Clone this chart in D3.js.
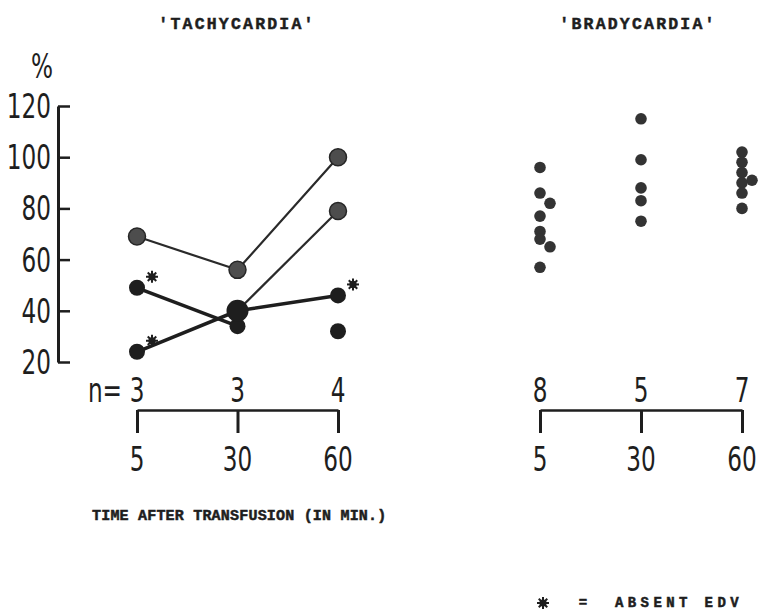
<!DOCTYPE html>
<html>
<head>
<meta charset="utf-8">
<script src="https://cdn.jsdelivr.net/npm/d3@7/dist/d3.min.js"></script>
<style>
  html, body { margin: 0; padding: 0; background: #fff; }
  svg { display: block; }
  .num { font-family: "DejaVu Sans Condensed", "DejaVu Sans", sans-serif; fill: #1e1e1e; }
  .mono { font-family: "Liberation Mono", "DejaVu Sans Mono", monospace; font-weight: bold; fill: #1e1e1e; stroke: #1e1e1e; stroke-width: 0.5; }
</style>
</head>
<body>
<div id="chart"></div>
<script>
// time points (min) and group sizes
const times = [5, 30, 60];
const tachyN = [3, 3, 4];
const bradyN = [8, 5, 7];
const yTicks = [20, 40, 60, 80, 100, 120];

// tachycardia: individual courses (% values, null = not measured)
const tachyGrey = [
  [69, 56, 100],
  [null, 40, 79],
];
const tachyBlack = [
  [49, 34, null],
  [24, 40, 46],
  [null, null, 32],
];
// absent EDV markers, same shape as tachyBlack
const tachyAbsent = [
  [true, false, false],
  [true, false, true],
  [false, false, false],
];

// bradycardia: single values per time point
const brady5 = [96, 86, 82, 77, 71, 68, 65, 57];
const brady30 = [115, 99, 88, 83, 75];
const brady60 = [102, 98, 94, 91, 90, 86, 80];
// dots drawn beside the column where they would overlap
const brady5Beside = [false, false, true, false, false, false, true, false];
const brady30Beside = [false, false, false, false, false];
const brady60Beside = [false, false, false, true, false, false, false];

const W = 762, H = 615;
const ink = "#1e1e1e";
const NUM = 33, SQ = 0.78; // number font size and horizontal squeeze

const svg = d3.select("#chart").append("svg").attr("width", W).attr("height", H);

const y = d3.scaleLinear().domain([20, 120]).range([362, 106]);
const xT = d3.scalePoint().domain(times).range([137, 338]);
const xB = d3.scalePoint().domain(times).range([540, 742]);

// condensed numbers: squeeze the glyphs around their anchor point
function numText(g, x, yy, txt, anchor) {
  return g.append("text").attr("class", "num").attr("font-size", NUM)
    .attr("text-anchor", anchor || "middle")
    .attr("transform", `translate(${x},${yy}) scale(${SQ},1)`).text(txt);
}

/* ── titles ── */
svg.append("text").attr("class", "mono").attr("x", 237).attr("y", 29)
  .attr("text-anchor", "middle").attr("font-size", 16.5).attr("letter-spacing", 2.2)
  .text("'TACHYCARDIA'");
svg.append("text").attr("class", "mono").attr("x", 638).attr("y", 29)
  .attr("text-anchor", "middle").attr("font-size", 16.5).attr("letter-spacing", 2.2)
  .text("'BRADYCARDIA'");

/* ── y axis ── */
const yAxis = d3.axisLeft(y).tickValues(yTicks).tickSizeInner(-12).tickSizeOuter(0).tickFormat("");
const gy = svg.append("g").attr("transform", "translate(58,0)").call(yAxis);
gy.select(".domain").attr("stroke", ink).attr("stroke-width", 3);
gy.selectAll(".tick line").attr("stroke", ink).attr("stroke-width", 2.5);
const gyl = svg.append("g");
yTicks.forEach((t) => numText(gyl, 51, y(t) + 12, t, "end"));

numText(svg, 42, 78, "%");

/* ── x brackets ── */
function bracket(x, n, withPrefix) {
  const ax = d3.axisBottom(x).tickSizeInner(23).tickSizeOuter(0).tickFormat("");
  const g = svg.append("g").attr("transform", "translate(0,410)").call(ax);
  g.select(".domain").attr("stroke", ink).attr("stroke-width", 2.5);
  g.selectAll(".tick line").attr("stroke", ink).attr("stroke-width", 3);
  const gl = svg.append("g");
  times.forEach((t) => numText(gl, x(t), 471, t));
  n.forEach((v, i) => numText(gl, x(times[i]), 402, v));
  if (withPrefix) numText(gl, x(times[0]) - 15, 402, "n=", "end");
}
bracket(xT, tachyN, true);
bracket(xB, bradyN, false);

/* ── tachycardia lines ── */
const line = d3.line().defined((d) => d.v != null).x((d) => xT(d.t)).y((d) => y(d.v));
const toPts = (row) => row.map((v, i) => ({ t: times[i], v: v }));

const gT = svg.append("g");
gT.selectAll("path.grey").data(tachyGrey).join("path").attr("class", "grey")
  .attr("d", (d) => line(toPts(d))).attr("fill", "none").attr("stroke", "#2a2a2a").attr("stroke-width", 2.2);
gT.selectAll("path.black").data(tachyBlack).join("path").attr("class", "black")
  .attr("d", (d) => line(toPts(d))).attr("fill", "none").attr("stroke", ink).attr("stroke-width", 3.5);

// grey markers: first course at every point, second course only at its end
const greyPts = [];
tachyGrey.forEach((row, r) => row.forEach((v, i) => {
  if (v != null && !(r === 1 && i === 1)) greyPts.push({ t: times[i], v: v });
}));
gT.selectAll("circle.grey").data(greyPts).join("circle").attr("class", "grey")
  .attr("cx", (d) => xT(d.t)).attr("cy", (d) => y(d.v)).attr("r", 8.5)
  .attr("fill", "#4d4d4d").attr("stroke", "#262626").attr("stroke-width", 1.5);

const blackPts = [];
tachyBlack.forEach((row, r) => row.forEach((v, i) => {
  if (v != null) blackPts.push({ t: times[i], v: v, absent: tachyAbsent[r][i], hub: i === 1 && r === 1 });
}));
gT.selectAll("circle.black").data(blackPts).join("circle").attr("class", "black")
  .attr("cx", (d) => xT(d.t)).attr("cy", (d) => y(d.v)).attr("r", (d) => (d.hub ? 11 : 8))
  .attr("fill", ink);

/* ── absent EDV stars ── */
function star(g, cx, cy) {
  const s = g.append("g").attr("transform", `translate(${cx},${cy})`);
  s.append("circle").attr("r", 3.6).attr("fill", ink);
  d3.range(8).forEach((k) => {
    const a = (k * Math.PI) / 4;
    s.append("line").attr("x1", 0).attr("y1", 0)
      .attr("x2", Math.cos(a) * 6).attr("y2", Math.sin(a) * 6)
      .attr("stroke", ink).attr("stroke-width", 2);
  });
}
blackPts.filter((d) => d.absent).forEach((d) => star(gT, xT(d.t) + 15, y(d.v) - 11));

/* ── bradycardia dots ── */
const gB = svg.append("g");
[[brady5, brady5Beside], [brady30, brady30Beside], [brady60, brady60Beside]].forEach(([vals, side], i) => {
  gB.append("g").selectAll("circle").data(vals).join("circle")
    .attr("cx", (d, j) => xB(times[i]) + (side[j] ? 10 : 0))
    .attr("cy", (d) => y(d)).attr("r", 5.8).attr("fill", "#333");
});

/* ── footer ── */
svg.append("text").attr("class", "mono").attr("x", 92).attr("y", 520)
  .attr("font-size", 15).attr("letter-spacing", 0.2)
  .text("TIME AFTER TRANSFUSION (IN MIN.)");
star(svg, 543, 603);
svg.append("text").attr("class", "mono").attr("x", 583).attr("y", 607)
  .attr("text-anchor", "middle").attr("font-size", 14).text("=");
svg.append("text").attr("class", "mono").attr("x", 615).attr("y", 607)
  .attr("font-size", 14).attr("letter-spacing", 4.4).text("ABSENT EDV");
</script>
</body>
</html>
